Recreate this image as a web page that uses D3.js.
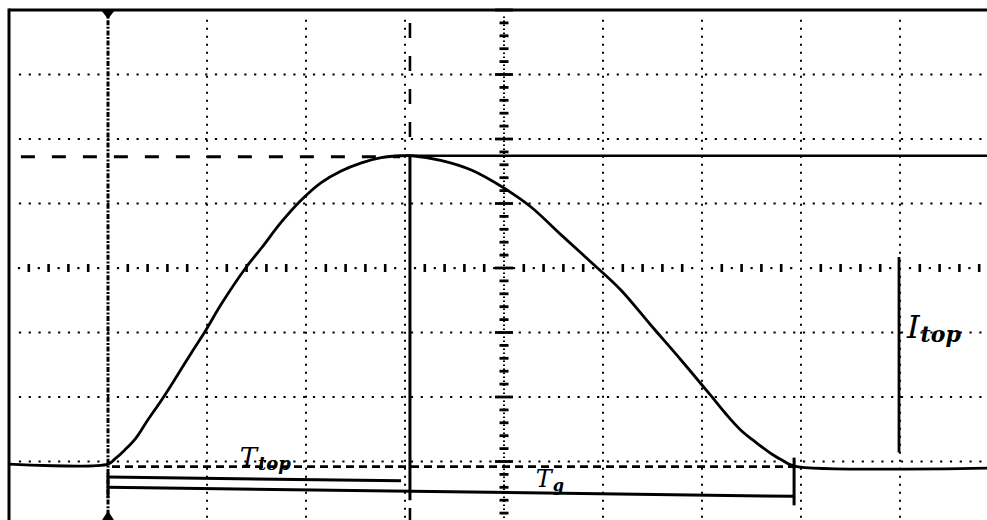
<!DOCTYPE html>
<html>
<head>
<meta charset="utf-8">
<script src="https://cdn.jsdelivr.net/npm/d3@7"></script>
<style>
	html, body { margin: 0; padding: 0; background: #fff; }
	svg { display: block; }
</style>
</head>
<body>
<div id="chart"></div>
<script>
var W = 987, H = 520;

// trace, in graticule divisions
// x: from left edge of graticule, y: from the centre line
var traceX = [0, 1.00, 1.07, 1.17, 1.28, 1.40, 1.54, 1.69, 1.84, 1.99, 2.14, 2.39, 2.55, 2.75, 2.95, 3.15, 3.35, 3.56, 3.76, 3.96, 4.07,
	4.36, 4.67, 5.00, 5.27, 5.58, 5.88, 6.18, 6.48, 6.79, 7.09, 7.24, 7.39, 7.55, 7.70, 7.82, 7.93, 9.95];
var traceY = [-3.04, -3.04, -2.96, -2.82, -2.64, -2.36, -2.05, -1.69, -1.32, -0.96, -0.57, 0.00, 0.31, 0.71, 1.05, 1.32, 1.50, 1.63, 1.71, 1.74, 1.74,
	1.67, 1.52, 1.24, 0.95, 0.51, 0.09, -0.34, -0.88, -1.43, -1.98, -2.26, -2.51, -2.71, -2.88, -2.99, -3.07, -3.10];

// cursors and markers (divisions)
var triggerTime = 1.0;
var peakTime = 4.05;
var endTime = 7.93;
var peakLevel = 1.74;
var baseLevel = -3.08;
var itopTime = 8.99;
var itopSpan = [0.17, -2.86];
var ttopBar = [[1.0, -3.24], [3.96, -3.30]];
var tgBar = [[1.0, -3.40], [7.93, -3.54]];

var labelText = ["I", "T", "T"];
var labelSub = ["top", "top", "g"];
var labelAt = [[9.07, -1.09], [2.33, -3.07], [5.32, -3.39]];
var labelSize = [32, 26, 24];

var x = d3.scaleLinear().domain([0, 10]).range([9, 999]);
var y = d3.scaleLinear().domain([-4, 4]).range([526, 10]);

var svg = d3.select("#chart").append("svg")
	.attr("width", W)
	.attr("height", H)
	.style("background", "#fff");

var ink = "#000";

//graticule: dotted rows and columns
var rows = [-3, -2, -1, 1, 2, 3];
var cols = [2, 3, 4, 6, 7, 8, 9];

svg.append("g")
	.selectAll("line")
	.data(rows)
	.enter().append("line")
	.attr("x1", x(0.1)).attr("x2", W)
	.attr("y1", function(d) { return y(d); })
	.attr("y2", function(d) { return y(d); })
	.attr("stroke", ink)
	.attr("stroke-width", 2.2)
	.attr("stroke-dasharray", "2.2,7.6");

svg.append("g")
	.selectAll("line")
	.data(cols)
	.enter().append("line")
	.attr("x1", function(d) { return x(d); })
	.attr("x2", function(d) { return x(d); })
	.attr("y1", y(3.85)).attr("y2", H)
	.attr("stroke", ink)
	.attr("stroke-width", 2)
	.attr("stroke-dasharray", "2,6");

//centre horizontal axis with fifth ticks
var hTicks = d3.range(0.2, 10, 0.2).filter(function(d) { return Math.abs(d - Math.round(d)) > 0.01; });
var hDots = d3.range(0.1, 10, 0.2);
var axisH = svg.append("g");
axisH.selectAll("rect.tk")
	.data(hTicks)
	.enter().append("rect")
	.attr("class", "tk")
	.attr("x", function(d) { return x(d) - 1.3; })
	.attr("y", y(0) - 4)
	.attr("width", 2.6).attr("height", 8)
	.attr("fill", ink);
axisH.selectAll("rect.dt")
	.data(hDots)
	.enter().append("rect")
	.attr("class", "dt")
	.attr("x", function(d) { return x(d) - 1; })
	.attr("y", y(0) - 1)
	.attr("width", 2.2).attr("height", 2.2)
	.attr("fill", ink);

//centre vertical axis with fifth ticks
var vTicks = d3.range(-4, 4.01, 0.2);
var axisV = svg.append("g");
axisV.append("line")
	.attr("x1", x(5)).attr("x2", x(5))
	.attr("y1", y(3.9)).attr("y2", H)
	.attr("stroke", ink)
	.attr("stroke-width", 2)
	.attr("stroke-dasharray", "1.6,2.4");
axisV.selectAll("rect")
	.data(vTicks)
	.enter().append("rect")
	.attr("x", function(d) {
		var w = Math.abs(d - Math.round(d)) < 0.01 ? 18 : 9;
		return x(5) - w / 2;
	})
	.attr("y", function(d) { return y(d) - 1.4; })
	.attr("width", function(d) { return Math.abs(d - Math.round(d)) < 0.01 ? 18 : 9; })
	.attr("height", 2.8)
	.attr("fill", ink);

//frame
svg.append("line")
	.attr("x1", x(0)).attr("x2", W)
	.attr("y1", y(4)).attr("y2", y(4))
	.attr("stroke", ink).attr("stroke-width", 3);
svg.append("line")
	.attr("x1", x(0)).attr("x2", x(0))
	.attr("y1", y(4) - 1.5).attr("y2", H)
	.attr("stroke", ink).attr("stroke-width", 3);

//trigger cursor
svg.append("line")
	.attr("x1", x(triggerTime)).attr("x2", x(triggerTime))
	.attr("y1", y(4)).attr("y2", H)
	.attr("stroke", ink)
	.attr("stroke-width", 3)
	.attr("stroke-dasharray", "5,1.6,2,1.6");
svg.append("path")
	.attr("d", "M" + (x(triggerTime) - 7) + "," + y(4) + "L" + (x(triggerTime) + 7) + "," + y(4) +
		"L" + x(triggerTime) + "," + (y(4) + 9) + "Z")
	.attr("fill", ink);
svg.append("path")
	.attr("d", "M" + (x(triggerTime) - 6) + "," + H + "L" + (x(triggerTime) + 6) + "," + H +
		"L" + x(triggerTime) + "," + (H - 9) + "Z")
	.attr("fill", ink);

//peak cursors
svg.append("line")
	.attr("x1", x(0.12)).attr("x2", x(3.95))
	.attr("y1", y(peakLevel) + 1).attr("y2", y(peakLevel) + 1)
	.attr("stroke", ink)
	.attr("stroke-width", 3)
	.attr("stroke-dasharray", "14,17");
svg.append("line")
	.attr("x1", x(peakTime) - 5).attr("x2", W)
	.attr("y1", y(peakLevel)).attr("y2", y(peakLevel))
	.attr("stroke", ink).attr("stroke-width", 2.6);
svg.append("line")
	.attr("x1", x(peakTime)).attr("x2", x(peakTime))
	.attr("y1", y(3.8)).attr("y2", y(peakLevel) - 4)
	.attr("stroke", ink)
	.attr("stroke-width", 2.6)
	.attr("stroke-dasharray", "15,18");
svg.append("line")
	.attr("x1", x(peakTime)).attr("x2", x(peakTime))
	.attr("y1", y(peakLevel)).attr("y2", y(-3.6))
	.attr("stroke", ink).attr("stroke-width", 3);
svg.append("line")
	.attr("x1", x(peakTime)).attr("x2", x(peakTime))
	.attr("y1", y(-3.72)).attr("y2", H)
	.attr("stroke", ink).attr("stroke-width", 2.6);

//base level dashed
svg.append("line")
	.attr("x1", x(triggerTime) + 4).attr("x2", x(endTime))
	.attr("y1", y(baseLevel)).attr("y2", y(baseLevel))
	.attr("stroke", ink)
	.attr("stroke-width", 2.6)
	.attr("stroke-dasharray", "8,5");

//time bars
var bar = d3.line()
	.x(function(d) { return x(d[0]); })
	.y(function(d) { return y(d[1]); });
svg.append("path").attr("d", bar(ttopBar))
	.attr("fill", "none").attr("stroke", ink).attr("stroke-width", 3);
svg.append("path").attr("d", bar(tgBar))
	.attr("fill", "none").attr("stroke", ink).attr("stroke-width", 3);
svg.append("line")
	.attr("x1", x(endTime)).attr("x2", x(endTime))
	.attr("y1", y(-2.94)).attr("y2", y(-3.68))
	.attr("stroke", ink).attr("stroke-width", 3);
svg.append("line")
	.attr("x1", x(triggerTime)).attr("x2", x(triggerTime))
	.attr("y1", y(-3.18)).attr("y2", y(-3.57))
	.attr("stroke", ink).attr("stroke-width", 3);

//Itop marker
svg.append("line")
	.attr("x1", x(itopTime)).attr("x2", x(itopTime))
	.attr("y1", y(itopSpan[0])).attr("y2", y(itopSpan[1]))
	.attr("stroke", ink).attr("stroke-width", 2.8);

//trace
var line = d3.line()
	.x(function(d, i) { return x(traceX[i]); })
	.y(function(d) { return y(d); })
	.curve(d3.curveCatmullRom.alpha(0.5));
svg.append("path")
	.datum(traceY)
	.attr("d", line)
	.attr("fill", "none")
	.attr("stroke", ink)
	.attr("stroke-width", 2.8)
	.attr("stroke-linejoin", "round");

//handwritten labels
var lab = svg.append("g")
	.selectAll("text")
	.data(labelText)
	.enter().append("text")
	.attr("x", function(d, i) { return x(labelAt[i][0]); })
	.attr("y", function(d, i) { return y(labelAt[i][1]); })
	.style("font-family", "'DejaVu Serif', serif")
	.style("font-style", "italic")
	.style("font-size", function(d, i) { return labelSize[i] + "px"; })
	.attr("fill", ink);
lab.append("tspan").text(function(d) { return d; });
lab.append("tspan")
	.attr("dy", 4)
	.attr("dx", 1)
	.style("font-size", function(d, i) { return Math.round(labelSize[i] * 0.68) + "px"; })
	.style("font-weight", "bold")
	.text(function(d, i) { return labelSub[i]; });

</script>
</body>
</html>
